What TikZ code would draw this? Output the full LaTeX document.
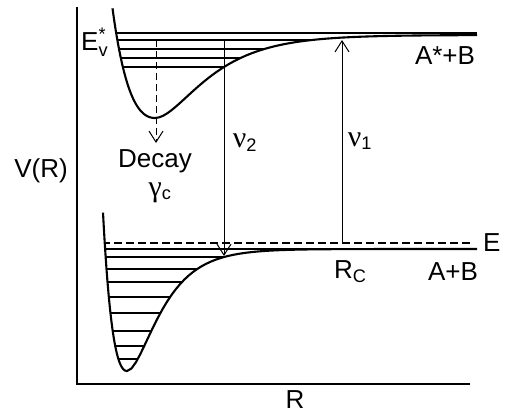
\documentclass[tikz,border=0pt]{standalone}
\usepackage{amsmath}
\usepackage{fontspec}
\setmainfont{Liberation Sans}
\newfontfamily\grkfont[Scale=1.15]{Liberation Serif}
\usetikzlibrary{arrows.meta, positioning}

\begin{document}
\begin{tikzpicture}[x=1pt, y=-1pt, >={Straight Barb[length=11pt,width=14pt]},
    every node/.style={font=\fontsize{26}{30}\selectfont, inner sep=0pt},
    curve/.style={line width=2.1pt},
    level/.style={line width=1.1pt},
    axis/.style={line width=1.3pt},
    trans/.style={->, line width=1pt},
    edash/.style={line width=1.1pt, dash pattern=on 8pt off 4pt}]
    \useasboundingbox (0,0) rectangle (505,413);
    % 坐标轴
    \draw[axis] (77,7) -- (77,384) -- (470,384);
    % 振动能级
    \begin{scope}
        \clip plot[domain=112.5:155, samples=40] (\x, {118-83*(1-exp(-0.018*(\x-155)))^2})
            -- plot[domain=155:477, samples=80] (\x, {118-83*(1-exp(-0.0222*(\x-155)))^2})
            -- (477,0) -- (112.5,0) -- cycle;
        \foreach \y in {33,40,49,58,67}
            \draw[level] (100,\y) -- (477,\y);
    \end{scope}
    \begin{scope}
        \clip plot[domain=103:127, samples=40] (\x, {371-122*(1-exp(-0.0317*(\x-127)))^2})
            -- plot[domain=127:477, samples=80] (\x, {371-122*(1-exp(-0.035*(\x-127)))^2})
            -- (477,200) -- (103,200) -- cycle;
        \foreach \y in {249,257,269,282,297,313,331,346,359}
            \draw[level] (90,\y) -- (477,\y);
        \draw[edash] (90,243) -- (472,243);
    \end{scope}
    % 势能曲线
    \draw[curve] plot[domain=112.5:155, samples=40] (\x, {118-83*(1-exp(-0.018*(\x-155)))^2})
        -- plot[domain=155:477, samples=80] (\x, {118-83*(1-exp(-0.0222*(\x-155)))^2});
    \draw[curve] plot[domain=103:127, samples=40] (\x, {371-122*(1-exp(-0.0317*(\x-127)))^2})
        -- plot[domain=127:477, samples=80] (\x, {371-122*(1-exp(-0.035*(\x-127)))^2});
    % 节点
    \coordinate (v2top) at (224,40);
    \coordinate (v2bot) at (224,256);
    \coordinate (v1bot) at (342,243);
    \coordinate (v1top) at (342,40);
    \coordinate (dtop) at (156,40);
    \coordinate (dbot) at (156,143);
    % 跃迁
    \draw[trans] (v2top) -- (v2bot);
    \draw[trans] (v1bot) -- (v1top);
    \draw[trans, dash pattern=on 7pt off 4pt] (dtop) -- (dbot);
    % 标注
    \node[anchor=base west] (ev) at (81,50) {E$^{\text{*}}_{\text{v}}$};
    \node[anchor=base] (vr) at (41,177) {V(R)};
    \node[anchor=base] (decay) at (155,167) {Decay};
    \node[anchor=base] (gamma) at (160,196) {{\grkfont γ}\textsubscript{c}};
    \node[anchor=base] (nu2) at (245,147) {{\grkfont ν}\textsubscript{2}};
    \node[anchor=base] (nu1) at (360,146) {{\grkfont ν}\textsubscript{1}};
    \node[anchor=base] (astar) at (445,64) {A*+B};
    \node[anchor=base west] (elbl) at (483,251) {E};
    \node[anchor=base west] (rc) at (334,278) {R\textsubscript{C}};
    \node[anchor=base] (ab) at (453,280) {A+B};
    \node[anchor=base] (rlbl) at (295,408) {R};
\end{tikzpicture}
\end{document}
